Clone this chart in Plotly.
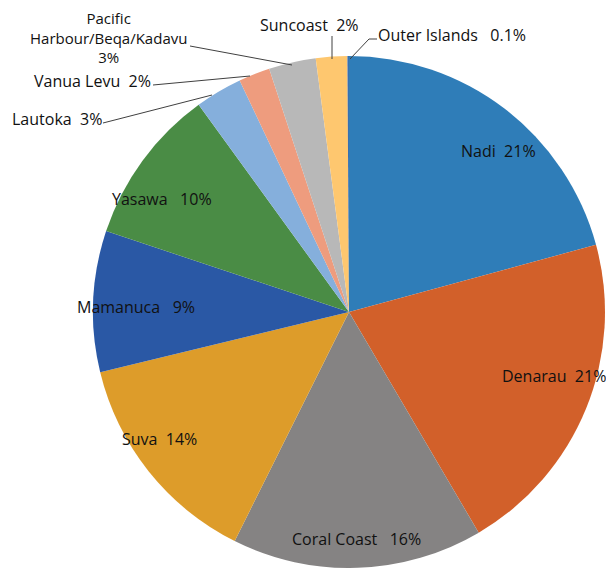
import plotly.graph_objects as go

# regions, clockwise from 12 o'clock
regions = ["Nadi", "Denarau", "Coral Coast", "Suva", "Mamanuca", "Yasawa",
           "Lautoka", "Vanua Levu", "Pacific Harbour/Beqa/Kadavu", "Suncoast",
           "Outer Islands"]
shares = [21, 21, 16, 14, 9, 10, 3, 2, 3, 2, 0.1]
share_text = ["21%", "21%", "16%", "14%", "9%", "10%", "3%", "2%", "3%", "2%", "0.1%"]
colors = ["#2F7DB8", "#D2602A", "#858383", "#DD9C2A", "#2A58A5", "#4A8C45",
          "#85AFDC", "#EE9C7E", "#B8B8B8", "#FEC76F", "#3A6FB0"]

# the page body keeps its default 8px margin, so the figure is shifted by it
OFF = 8
W, H = 614 - OFF, 568 - OFF
R = 256                # pie radius in px
CX = 349 - OFF         # pie centre x in figure px

fig = go.Figure(go.Pie(
    labels=regions,
    values=shares,
    sort=False,
    direction="clockwise",
    rotation=0,
    textinfo="none",
    hoverinfo="label+percent",
    marker=dict(colors=colors, line=dict(width=0)),
    domain=dict(x=[(CX - R) / W, (CX + R) / W], y=[0, 2 * R / H]),
    showlegend=False,
))

# label placement (px in the 614x568 window) and leader lines
label_pos = {
    "Nadi": (498, 151), "Denarau": (554, 376), "Coral Coast": (356, 539),
    "Suva": (159, 439), "Mamanuca": (136, 307), "Yasawa": (162, 199),
    "Lautoka": (57, 119), "Vanua Levu": (92, 81),
    "Pacific Harbour/Beqa/Kadavu": (108, 37), "Suncoast": (309, 25),
    "Outer Islands": (452, 35),
}
leaders = [
    [(103, 123), (212, 95)],
    [(153, 85), (250, 76)],
    [(190, 46), (292, 65)],
    [(332, 36), (332, 59)],
    [(377, 39), (369, 39), (350, 59)],
]


def px(x, y):
    return (x - OFF) / W, 1 - (y - OFF) / H


annotations = []
for name, pct in zip(regions, share_text):
    x, y = px(*label_pos[name])
    size = 16
    if name == "Pacific Harbour/Beqa/Kadavu":
        txt = "Pacific<br>Harbour/Beqa/Kadavu<br>" + pct
        size = 15
    elif name in ("Coral Coast", "Mamanuca", "Yasawa", "Outer Islands"):
        txt = name + "   " + pct
    else:
        txt = name + "  " + pct
    annotations.append(dict(x=x, y=y, xref="paper", yref="paper", text=txt,
                            showarrow=False, xanchor="center", yanchor="middle",
                            font=dict(size=size, color="#111111")))

shapes = []
for pts in leaders:
    path = "M " + " L ".join(f"{px(a, b)[0]},{px(a, b)[1]}" for a, b in pts)
    shapes.append(dict(type="path", path=path, xref="paper", yref="paper",
                       line=dict(color="#404040", width=1)))

fig.update_layout(
    width=W, height=H,
    margin=dict(l=0, r=0, t=0, b=0),
    paper_bgcolor="white",
    font=dict(family="Open Sans, Liberation Sans, sans-serif"),
    annotations=annotations,
    shapes=shapes,
)

fig.write_html("out.html")
